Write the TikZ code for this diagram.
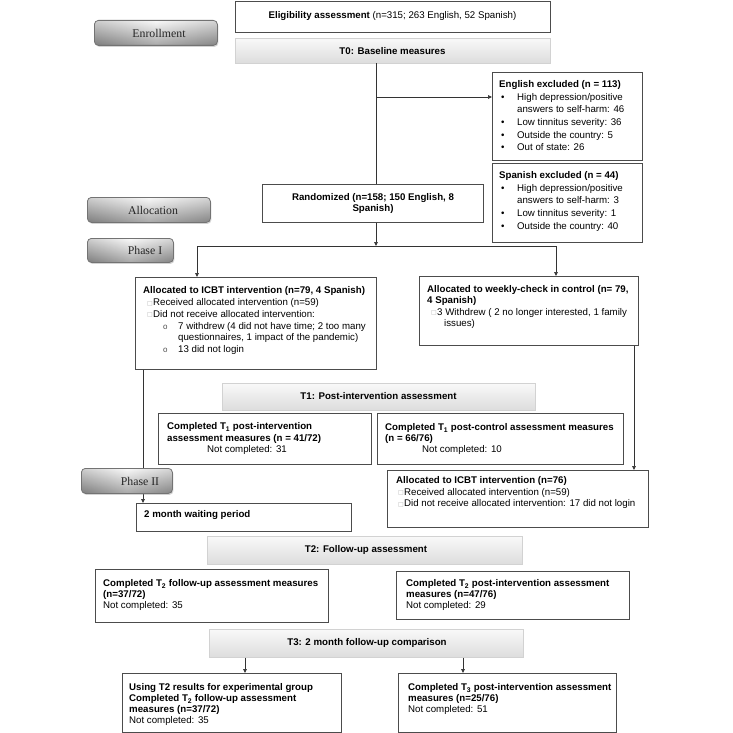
\documentclass[tikz,border=0pt]{standalone}
\usepackage{fontspec}
\setmainfont{Liberation Sans}
\newfontfamily\seriff{Liberation Serif}
\newfontfamily\symf{DejaVu Sans}
\usetikzlibrary{arrows.meta,shadows}
\newcommand\sqr{\makebox[6pt][l]{\raisebox{0.3pt}{\symf\fontsize{6}{6}\selectfont\textcolor{gray!60}{□}}}}
\newcommand\obul{{\fontsize{8}{8}\selectfont\textcolor{black!70}{o}}}
\tikzset{
 box/.style={draw=black!70, line width=0.9pt, fill=white, anchor=north west, inner sep=0pt},
 bar/.style={draw=gray!35, line width=0.5pt, top color=gray!5, bottom color=gray!27, anchor=north west, inner sep=0pt},
 btn/.style={draw=black!55, line width=0.8pt, rounded corners=4pt, anchor=north west, inner sep=0pt,
   drop shadow={opacity=0.35, shadow xshift=1pt, shadow yshift=-1.5pt},
   preaction={fill=white, fill opacity=1},
   preaction={left color=gray!70, right color=gray!60, middle color=gray!8, fill opacity=1},
   top color=white, bottom color=black!70, fill opacity=0.45, draw opacity=1},
 txt/.style={anchor=north west, inner sep=0pt, align=left},
 ctxt/.style={inner sep=0pt, align=center, font=\fontsize{9.7}{11}\selectfont},
 btxt/.style={inner sep=0pt, font=\seriff\fontsize{11.8}{12}\selectfont, text=black!85},
 conn/.style={draw=black!80, line width=0.7pt},
 arr/.style={conn, -{Triangle[length=4pt,width=3.6pt]}},
}
\begin{document}
\begin{tikzpicture}[x=1pt,y=-1pt]
\useasboundingbox (0,0) rectangle (733,733);
% boxes
\node[box, minimum width=315pt, minimum height=31pt] (elig) at (235,1) {};
\node[bar, minimum width=315pt, minimum height=25pt] (t0) at (235,38) {};
\node[box, minimum width=150pt, minimum height=88pt] (engx) at (492,72) {};
\node[box, minimum width=150pt, minimum height=79pt] (spax) at (492,163) {};
\node[box, minimum width=221pt, minimum height=38pt] (rand) at (262,184) {};
\node[box, minimum width=241pt, minimum height=92pt] (icbt) at (135,277) {};
\node[box, minimum width=219pt, minimum height=69pt] (week) at (419,276) {};
\node[bar, minimum width=313pt, minimum height=27pt] (t1) at (222,383) {};
\node[box, minimum width=213pt, minimum height=51pt] (t1l) at (158,413) {};
\node[box, minimum width=246pt, minimum height=51pt] (t1r) at (377,413) {};
\node[box, minimum width=215pt, minimum height=28pt] (wait) at (136,503) {};
\node[box, minimum width=261pt, minimum height=57pt] (icbt2) at (387,470) {};
\node[bar, minimum width=315pt, minimum height=28pt] (t2) at (207,536) {};
\node[box, minimum width=233pt, minimum height=53pt] (t2l) at (95,569) {};
\node[box, minimum width=233pt, minimum height=48pt] (t2r) at (396,571) {};
\node[bar, minimum width=314pt, minimum height=28pt] (t3) at (209,629) {};
\node[box, minimum width=219pt, minimum height=59pt] (t3l) at (122,673) {};
\node[box, minimum width=218pt, minimum height=59pt] (t3r) at (398,673) {};
% connector guides
\coordinate (spine) at (376,0);
\coordinate (exy) at (0,97);
\coordinate (sl) at (197,246);
\coordinate (sr) at (556,246);
\coordinate (lx) at (143,0);
\coordinate (rx) at (634,0);
\coordinate (ax) at (245,0);
\coordinate (bx) at (463,0);
% connectors
\draw[conn] (t0.south -| spine) -- (rand.north -| spine);
\draw[arr] (spine |- exy) -- (engx.west |- exy);
\draw[arr] (rand.south -| spine) -- (spine |- sl);
\draw[conn] (sl) -- (sr);
\draw[arr] (sl) -- (sl |- icbt.north);
\draw[arr] (sr) -- (sr |- week.north);
\draw[arr] (icbt.south -| lx) -- (wait.north -| lx);
\draw[arr] (week.south -| rx) -- (icbt2.north -| rx);
\draw[arr] (t3.south -| ax) -- (t3l.north -| ax);
\draw[arr] (t3.south -| bx) -- (t3r.north -| bx);
% buttons
\node[btn, minimum width=123pt, minimum height=25pt] (enr) at (94,20) {};
\node[btn, minimum width=123pt, minimum height=25pt] (alloc) at (87,197) {};
\node[btn, minimum width=86pt, minimum height=24pt] (ph1) at (87,238) {};
\node[btn, minimum width=91pt, minimum height=25pt] (ph2) at (81,468) {};
\node[btxt] (enr-t) at (159,33) {Enrollment};
\node[btxt] (alloc-t) at (153,210) {Allocation};
\node[btxt] (ph1-t) at (145,250.5) {Phase I};
\node[btxt] (ph2-t) at (140,481.5) {Phase II};
% texts
\node[ctxt] (elig-t) at (392.5,16) {\textbf{Eligibility assessment} (n=315; 263 English, 52 Spanish)};
\node[ctxt] (t0-t) at (392.5,51.5) {\textbf{T0: Baseline measures}};
\node[txt, font=\fontsize{9.7}{12.6}\selectfont] (engx-t) at (499,80.4) {\textbf{English excluded (n = 113)}\\
\hspace*{2pt}\makebox[16pt][l]{•}High depression/positive\\
\hspace*{18pt}answers to self-harm: 46\\
\hspace*{2pt}\makebox[16pt][l]{•}Low tinnitus severity: 36\\
\hspace*{2pt}\makebox[16pt][l]{•}Outside the country: 5\\
\hspace*{2pt}\makebox[16pt][l]{•}Out of state: 26};
\node[txt, font=\fontsize{9.7}{12.6}\selectfont] (spax-t) at (499,171.4) {\textbf{Spanish excluded (n = 44)}\\
\hspace*{2pt}\makebox[16pt][l]{•}High depression/positive\\
\hspace*{18pt}answers to self-harm: 3\\
\hspace*{2pt}\makebox[16pt][l]{•}Low tinnitus severity: 1\\
\hspace*{2pt}\makebox[16pt][l]{•}Outside the country: 40};
\node[ctxt] (rand-t) at (373,203) {\textbf{Randomized (n=158; 150 English, 8}\\\textbf{Spanish)}};
\node[txt, font=\fontsize{9.7}{11.8}\selectfont] (icbt-t) at (143,286.4) {\textbf{Allocated to ICBT intervention (n=79, 4 Spanish)}\\
\hspace*{4pt}\sqr Received allocated intervention (n=59)\\
\hspace*{4pt}\sqr Did not receive allocated intervention:\\
\hspace*{20pt}\makebox[15pt][l]{\obul}7 withdrew (4 did not have time; 2 too many\\
\hspace*{35pt}questionnaires, 1 impact of the pandemic)\\
\hspace*{20pt}\makebox[15pt][l]{\obul}13 did not login};
\node[txt, font=\fontsize{9.7}{11.3}\selectfont] (week-t) at (427,285.4) {\textbf{Allocated to weekly-check in control (n= 79,}\\
\textbf{4 Spanish)}\\
\hspace*{4pt}\sqr 3 Withdrew ( 2 no longer interested, 1 family\\
\hspace*{17pt}issues)};
\node[ctxt] (t1-t) at (378.5,396.5) {\textbf{T1: Post-intervention assessment}};
\node[txt, font=\fontsize{9.7}{11.5}\selectfont] (t1l-t) at (167,422.4) {\textbf{Completed T\textsubscript{1} post-intervention}\\
\textbf{assessment measures (n = 41/72)}\\
\hspace*{40pt}Not completed: 31};
\node[txt, font=\fontsize{9.7}{11}\selectfont] (t1r-t) at (385,423.4) {\textbf{Completed T\textsubscript{1} post-control assessment measures}\\
\textbf{(n = 66/76)}\\
\hspace*{37pt}Not completed: 10};
\node[txt, anchor=west, font=\fontsize{9.7}{11}\selectfont] (wait-t) at (144,515.5) {\textbf{2 month waiting period}};
\node[txt, font=\fontsize{9.7}{11.5}\selectfont] (icbt2-t) at (396,476.4) {\textbf{Allocated to ICBT intervention (n=76)}\\
\hspace*{2pt}\sqr Received allocated intervention (n=59)\\
\hspace*{2pt}\sqr Did not receive allocated intervention: 17 did not login};
\node[ctxt] (t2-t) at (366,550) {\textbf{T2: Follow-up assessment}};
\node[txt, font=\fontsize{9.7}{11}\selectfont] (t2l-t) at (103,579.4) {\textbf{Completed T\textsubscript{2} follow-up assessment measures}\\
\textbf{(n=37/72)}\\
Not completed: 35};
\node[txt, font=\fontsize{9.7}{11}\selectfont] (t2r-t) at (406,579.4) {\textbf{Completed T\textsubscript{2} post-intervention assessment}\\
\textbf{measures (n=47/76)}\\
Not completed: 29};
\node[ctxt] (t3-t) at (367,643) {\textbf{T3: 2 month follow-up comparison}};
\node[txt, font=\fontsize{9.7}{11}\selectfont] (t3l-t) at (129,683.4) {\textbf{Using T2 results for experimental group}\\
\textbf{Completed T\textsubscript{2} follow-up assessment}\\
\textbf{measures (n=37/72)}\\
Not completed: 35};
\node[txt, font=\fontsize{9.7}{11}\selectfont] (t3r-t) at (408,683.4) {\textbf{Completed T\textsubscript{3} post-intervention assessment}\\
\textbf{measures (n=25/76)}\\
Not completed: 51};
\end{tikzpicture}
\end{document}
